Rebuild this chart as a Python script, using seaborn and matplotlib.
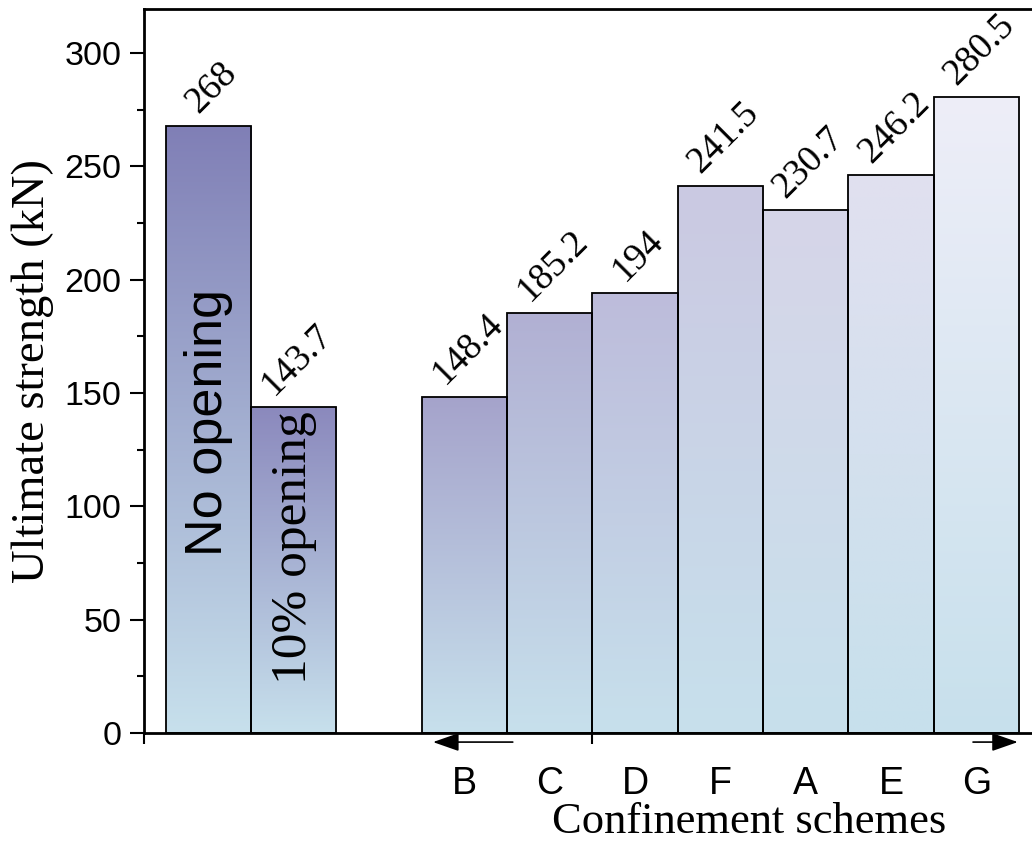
import numpy as np
import pandas as pd
import seaborn as sns
from matplotlib import pyplot as plt
from matplotlib.colors import to_rgb

# data
schemes = ["No opening", "10% opening", "B", "C", "D", "F", "A", "E", "G"]
strengths = [268, 143.7, 148.4, 185.2, 194, 241.5, 230.7, 246.2, 280.5]
tick_labels = ["B", "C", "D", "F", "A", "E", "G"]

# top colour of each bar's vertical gradient (bottom is always light blue)
top_colors = ["#807fb6", "#8b89bd", "#a5a3cb", "#b1b0d3", "#bdbcdb",
              "#cbc9e2", "#d6d5e8", "#e1e0f0", "#eeeef8"]
bottom_color = "#c7e0ec"

SERIF = "Liberation Serif"
SANS = "Liberation Sans"


def gradient_fill(ax, patch, top, bottom):
    """Fill a bar patch with a vertical gradient from bottom to top colour."""
    x0, y0 = patch.get_x(), patch.get_y()
    w, h = patch.get_width(), patch.get_height()
    t = np.linspace(0, 1, 256)[:, None]
    c0, c1 = np.array(to_rgb(bottom)), np.array(to_rgb(top))
    img = (c0 + (c1 - c0) * t).reshape(256, 1, 3)
    im = ax.imshow(img, extent=(x0, x0 + w, y0, y0 + h), origin="lower",
                   aspect="auto", interpolation="bilinear", zorder=1)
    im.set_clip_path(patch)
    patch.set_facecolor("none")


sns.set_style("ticks")
plt.rcParams["font.family"] = [SANS, "DejaVu Sans"]
plt.rcParams.update({
    "text.color": "black",
    "axes.labelcolor": "black",
    "axes.edgecolor": "black",
    "xtick.color": "black",
    "ytick.color": "black",
})

df = pd.DataFrame({"scheme": schemes, "strength": strengths})
order = schemes[:2] + [" "] + schemes[2:]

fig = plt.figure(figsize=(10.32, 8.48), dpi=100)
ax = fig.add_axes([0.1395, 0.1356, 0.8605, 0.8538])

sns.barplot(data=df, x="scheme", y="strength", order=order, width=1.0,
            edgecolor="black", linewidth=1.3, color="white", ax=ax,
            errorbar=None, zorder=2)

val_by_pos = {order.index(s): v for s, v in zip(schemes, strengths)}
col_by_pos = {order.index(s): c for s, c in zip(schemes, top_colors)}
for p in ax.patches:
    pos = int(round(p.get_x() + p.get_width() / 2))
    gradient_fill(ax, p, col_by_pos[pos], bottom_color)
    p.set_zorder(2)

# rotated value labels
for pos, v in val_by_pos.items():
    ax.text(pos + 0.04, v + 2.5, f"{v:g}", rotation=45, ha="center",
            va="bottom", fontsize=27, family=SERIF)

# in-bar labels for the reference bars
ax.text(0, 137, "No opening", rotation=90, ha="center", va="center",
        fontsize=37.5, family=SANS)
ax.text(1, 82, "10% opening", rotation=90, ha="center", va="center",
        fontsize=37, family=SERIF)

ax.set_xlim(-0.756, 9.654)
ax.set_ylim(0, 319.5)

# y axis
ax.set_yticks(np.arange(0, 301, 50))
ax.set_yticks(np.arange(0, 320, 25), minor=True)
ax.tick_params(axis="y", which="major", length=10, width=1.5,
               labelsize=24.5, pad=6)
ax.tick_params(axis="y", which="minor", length=5, width=1.5)
ax.set_ylabel("Ultimate strength (kN)", fontsize=33.5, family=SERIF,
              labelpad=8)

# x axis
ax.set_xticks(range(3, 10))
ax.set_xticklabels(tick_labels)
ax.set_xticks([-0.756, 4.5], minor=True)
ax.tick_params(axis="x", which="major", length=0, labelsize=27, pad=24)
ax.tick_params(axis="x", which="minor", length=8, width=1.5)
ax.set_xlabel("Confinement schemes", fontsize=32, family=SERIF, labelpad=0)
ax.xaxis.label.set_x(0.681)

for side in ["left", "top", "bottom"]:
    ax.spines[side].set_linewidth(2)
ax.spines["right"].set_visible(False)

# direction arrows under the scheme group
arrow = dict(arrowstyle="-|>,head_length=0.8,head_width=0.28", color="black",
             lw=1.2, mutation_scale=20)
ax.annotate("", xy=(2.6, -4), xytext=(3.6, -4), arrowprops=arrow,
            annotation_clip=False)
ax.annotate("", xy=(9.52, -4), xytext=(8.93, -4), arrowprops=arrow,
            annotation_clip=False)

fig.savefig("out.png", dpi=100)
